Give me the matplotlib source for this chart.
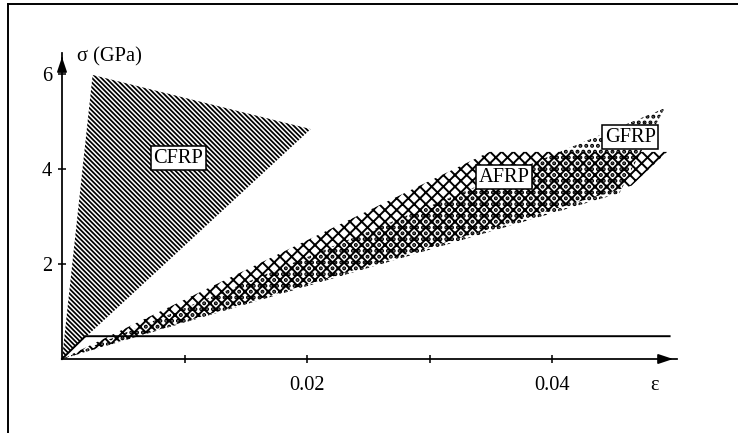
import numpy as np
import matplotlib
matplotlib.use("Agg")

import matplotlib.pyplot as plt
from matplotlib.lines import Line2D

plt.rcParams.update({
    "font.family": ["Liberation Serif", "DejaVu Serif"],
    "font.size": 10.5,
    "hatch.linewidth": 0.9,
})

# fibre composite stress-strain envelopes (strain, stress in GPa)
cfrp_eps = [0.0, 0.0025, 0.0203]
cfrp_sig = [0.0, 5.98, 4.84]

afrp_eps = [0.0, 0.0349, 0.0494, 0.0465]
afrp_sig = [0.0, 4.36, 4.36, 3.65]

gfrp_eps = [0.0, 0.0492, 0.0466, 0.0455]
gfrp_sig = [0.0, 5.28, 4.04, 3.49]

# steel reference line
steel_eps = [0.0, 0.0019, 0.0496]
steel_sig = [0.0, 0.48, 0.48]

labels = ["CFRP", "AFRP", "GFRP"]
label_eps = [0.0095, 0.0361, 0.0464]
label_sig = [4.23, 3.83, 4.67]

xticks = [0.01, 0.02, 0.03, 0.04]
xticklabels = ["", "0.02", "", "0.04"]
yticks = [2, 4, 6]

DPI = 140
W, H = 738, 433
fig = plt.figure(figsize=(W / DPI, H / DPI), dpi=DPI)
ax = fig.add_axes([0, 0, 1, 1])

# map data to pixel layout of the original drawing
x0, xscale = 62, 12250.0
y0, yscale = 359, 47.5
ax.set_xlim(-x0 / xscale, (W - x0) / xscale)
ax.set_ylim((y0 - H) / yscale, y0 / yscale)


def hatched(eps, sig, pattern, hlw):
    p = ax.fill(eps, sig, facecolor="none", edgecolor="black",
                linewidth=0, hatch=pattern)[0]
    if hasattr(p, "set_hatch_linewidth"):
        p.set_hatch_linewidth(hlw)
    return p


hatched(gfrp_eps, gfrp_sig, "." * 4, 1.4)
hatched(afrp_eps, afrp_sig, "x" * 4, 1.0)
hatched(cfrp_eps, cfrp_sig, "\\" * 10, 0.9)

ax.plot(steel_eps, steel_sig, color="black", lw=1.0)

for txt, ex, sy in zip(labels, label_eps, label_sig):
    ax.text(ex, sy, txt, ha="center", va="center", fontsize=10.5,
            bbox=dict(boxstyle="square,pad=0.12", fc="white", ec="black", lw=0.8))

# axes through the origin with arrow heads
x_end, y_end = 0.0502, 6.44
for s in ["top", "right"]:
    ax.spines[s].set_visible(False)
ax.spines["left"].set_position(("data", 0))
ax.spines["bottom"].set_position(("data", 0))
ax.spines["left"].set_bounds(0, y_end)
ax.spines["bottom"].set_bounds(0, x_end)
ax.spines["left"].set_linewidth(0.9)
ax.spines["bottom"].set_linewidth(0.9)
ax.annotate("", xy=(x_end, 0), xytext=(x_end - 0.001, 0),
            arrowprops=dict(arrowstyle="-|>,head_length=0.6,head_width=0.2",
                            color="black", lw=0.9))
ax.annotate("", xy=(0, y_end), xytext=(0, y_end - 0.2),
            arrowprops=dict(arrowstyle="-|>,head_length=0.6,head_width=0.2",
                            color="black", lw=0.9))

ax.set_xticks(xticks)
ax.set_xticklabels(xticklabels)
ax.set_yticks(yticks)
ax.tick_params(direction="inout", length=4, width=0.8, labelsize=10.5)
ax.tick_params(axis="x", pad=7)
ax.tick_params(axis="y", pad=3)

ax.text(0.0012, 6.36, "σ (GPa)", ha="left", va="center", fontsize=10.5)
ax.text(0.0484, -0.55, "ε", ha="center", va="center", fontsize=10.5)

# frame of the original figure
fig.add_artist(Line2D([8 / W, 8 / W], [0, 1 - 4 / H], color="black", lw=1.0))
fig.add_artist(Line2D([8 / W, 1], [1 - 4 / H, 1 - 4 / H], color="black", lw=1.0))

fig.savefig("out.png", dpi=DPI)
